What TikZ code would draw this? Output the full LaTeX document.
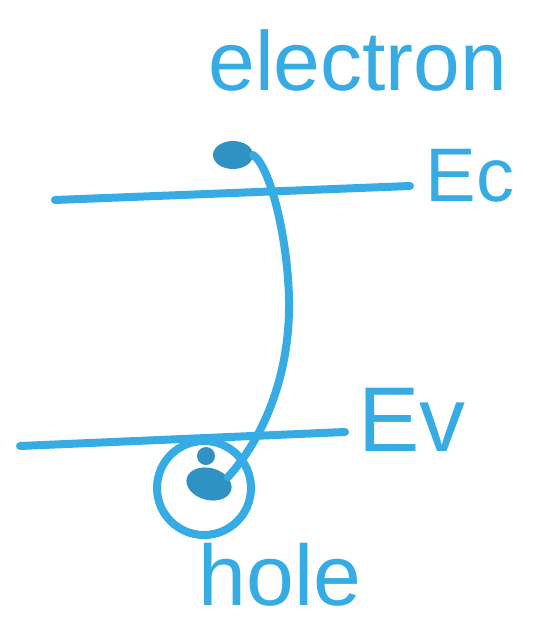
\documentclass[tikz,border=0pt]{standalone}
\usepackage{fontspec}
\setmainfont{Liberation Sans}
\usetikzlibrary{shapes.geometric}
\definecolor{pen}{RGB}{55,172,228}
\tikzset{
  penline/.style={draw=pen, line width=8pt, line cap=round, line join=round},
  blob/.style={ellipse, fill=pen!85!black, inner sep=0pt},
  hand/.style={text=pen, inner sep=0pt}
}
\begin{document}
\begin{tikzpicture}[x=1pt,y=-1pt]
\useasboundingbox (0,0) rectangle (535,623);
% levels
\coordinate (ecl) at (55,200);
\coordinate (ecr) at (410,186);
\coordinate (evl) at (20,446);
\coordinate (evr) at (345,432);
\draw[penline] (ecl) -- (ecr);
\draw[penline] (evl) -- (evr);
% hole circle
\node[circle, draw=pen, line width=8pt, minimum size=94pt, inner sep=0pt] (hc) at (204,488) {};
% dots
\node[blob, minimum width=40pt, minimum height=28pt] (e) at (233,155) {};
\node[blob, minimum width=46pt, minimum height=32pt, rotate=-15] (h) at (209,484) {};
\node[blob, minimum width=18pt, minimum height=18pt] (hb) at (206,456) {};
% transition
\draw[penline] (e.east) .. controls (272,168) and (290,250) .. (289,310)
  .. controls (288,380) and (262,440) .. (h.north east);
% labels
\node[hand, font=\fontsize{84}{84}\selectfont] (el) at (358,60) {electron};
\node[hand, font=\fontsize{76}{76}\selectfont] (ec) at (470,176) {Ec};
\node[hand, font=\fontsize{92}{92}\selectfont] (ev) at (412,420) {Ev};
\node[hand, font=\fontsize{86}{86}\selectfont] (ho) at (280,575) {hole};
\end{tikzpicture}
\end{document}
